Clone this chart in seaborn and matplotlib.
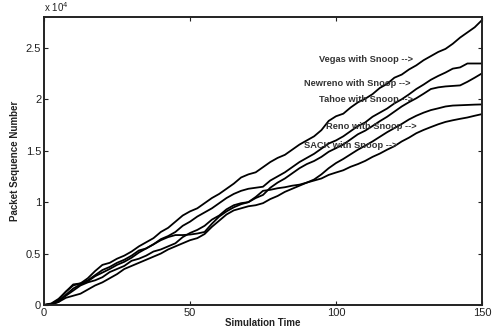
import matplotlib
matplotlib.use("Agg")
import matplotlib.pyplot as plt
import seaborn as sns
import pandas as pd
from matplotlib.ticker import FuncFormatter

# Simulation time samples
time = [0, 2.5, 5, 7.5, 10, 12.5, 15, 17.5, 20, 22.5, 25, 27.5, 30, 32.5, 35, 37.5, 40, 42.5,
        45, 47.5, 50, 52.5, 55, 57.5, 60, 62.5, 65, 67.5, 70, 72.5, 75, 77.5, 80, 82.5, 85,
        87.5, 90, 92.5, 95, 97.5, 100, 102.5, 105, 107.5, 110, 112.5, 115, 117.5, 120, 122.5,
        125, 127.5, 130, 132.5, 135, 137.5, 140, 142.5, 145, 147.5, 150]

# Packet sequence numbers per TCP variant
vegas = [0, 150, 600, 1300, 1900, 2100, 2600, 3300, 3900, 4100, 4500, 4800, 5200, 5700, 6100,
         6500, 7100, 7500, 8100, 8700, 9100, 9400, 9900, 10400, 10800, 11300, 11800, 12400,
         12700, 12900, 13400, 13900, 14300, 14600, 15100, 15600, 16000, 16400, 17000, 17900,
         18350, 18600, 19200, 19700, 20050, 20500, 21100, 21500, 22100, 22400, 22900, 23300,
         23800, 24200, 24600, 24900, 25400, 26000, 26500, 27000, 27700]
newreno = [0, 100, 500, 1300, 2000, 2100, 2400, 2900, 3400, 3700, 4100, 4400, 4800, 5300, 5500,
           5900, 6400, 6700, 7100, 7700, 8100, 8600, 9000, 9400, 9900, 10400, 10800, 11100,
           11300, 11400, 11500, 12100, 12500, 12900, 13400, 13900, 14300, 14700, 15200, 15700,
           16000, 16400, 16900, 17400, 17750, 18300, 18700, 19100, 19600, 20000, 20480, 21000,
           21430, 21900, 22270, 22600, 22980, 23100, 23480, 23480, 23480]
tahoe = [0, 50, 400, 900, 1400, 1900, 2200, 2400, 2700, 3200, 3500, 3800, 4300, 4500, 4800,
         5200, 5400, 5700, 6000, 6600, 7000, 7300, 7700, 8300, 8700, 9300, 9700, 9900, 10000,
         10400, 10700, 11400, 11900, 12300, 12800, 13300, 13700, 14000, 14400, 14900, 15250,
         15600, 16100, 16600, 16950, 17400, 17870, 18300, 18800, 19300, 19720, 20100, 20540,
         21000, 21160, 21250, 21300, 21350, 21700, 22100, 22520]
reno = [0, 80, 300, 1000, 1600, 2000, 2300, 2800, 3150, 3500, 3900, 4200, 4600, 5100, 5500,
        5900, 6300, 6600, 6800, 6800, 6850, 6950, 7100, 7900, 8600, 9100, 9500, 9800, 10000,
        10500, 11100, 11200, 11350, 11450, 11600, 11700, 11900, 12200, 12700, 13300, 13800,
        14200, 14650, 15100, 15490, 15900, 16350, 16800, 17200, 17600, 18040, 18400, 18700,
        18950, 19120, 19300, 19390, 19420, 19450, 19480, 19500]
sack = [0, 50, 300, 700, 900, 1100, 1500, 1900, 2200, 2600, 3000, 3500, 3800, 4100, 4400,
        4700, 5000, 5400, 5700, 6000, 6300, 6500, 6900, 7600, 8200, 8800, 9200, 9400, 9600,
        9700, 9900, 10300, 10600, 11000, 11300, 11600, 11900, 12100, 12300, 12650, 12880,
        13100, 13440, 13700, 14010, 14400, 14720, 15100, 15440, 15900, 16270, 16700, 17020,
        17300, 17570, 17800, 17960, 18100, 18230, 18400, 18560]

variants = ["Vegas", "Newreno", "Tahoe", "Reno", "SACK"]
series = [vegas, newreno, tahoe, reno, sack]

labels = ["Vegas with Snoop -->", "Newreno with Snoop -->", "Tahoe with Snoop -->",
          "Reno with Snoop -->", "SACK with Snoop -->"]
label_x = [126.5, 125.5, 126.5, 127.5, 121.0]
label_y = [23900, 21550, 19990, 17330, 15490]

x_ticks = [0, 50, 100, 150]
y_ticks = [0, 5000, 10000, 15000, 20000, 25000]

rows = []
for name, vals in zip(variants, series):
    for t, v in zip(time, vals):
        rows.append({"time": t, "seq": v, "variant": name})
df = pd.DataFrame(rows)

sns.set_style("ticks")
plt.rcParams["font.family"] = ["Liberation Sans", "DejaVu Sans"]

fig = plt.figure(figsize=(4.92, 3.33), dpi=100)
ax = fig.add_axes([44 / 492, 28 / 333, 438 / 492, 288 / 333])

sns.lineplot(data=df, x="time", y="seq", hue="variant", units="variant", estimator=None,
             palette={v: "black" for v in variants}, linewidth=1.3, legend=False, ax=ax)

ax.set_xlim(0, 150)
ax.set_ylim(0, 28000)
ax.set_xticks(x_ticks)
ax.set_yticks(y_ticks)
ax.xaxis.set_major_formatter(FuncFormatter(lambda v, p: f"{v:g}"))
ax.yaxis.set_major_formatter(FuncFormatter(lambda v, p: f"{v / 1e4:g}"))
ax.tick_params(direction="in", length=3, width=0.8, top=True, right=True,
               labelsize=8, colors="#222222", pad=2)
for s in ax.spines.values():
    s.set_visible(True)
    s.set_linewidth(1.4)
    s.set_color("#222222")

ax.set_xlabel("Simulation Time", fontsize=7, fontweight="bold", labelpad=0, color="#222222")
ax.set_ylabel("Packet Sequence Number", fontsize=7, fontweight="bold", labelpad=4, color="#222222")
ax.text(0.0, 1.012, r"x 10$^4$", transform=ax.transAxes, fontsize=7, ha="left", va="bottom",
        color="#222222")

for txt, lx, ly in zip(labels, label_x, label_y):
    ax.text(lx, ly, txt, fontsize=6.7, fontweight="bold", ha="right", va="center", color="#333333")

fig.savefig("out.png", dpi=100)
